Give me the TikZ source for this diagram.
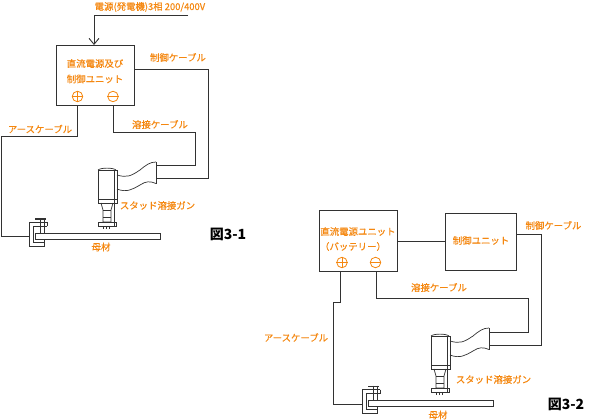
\documentclass[tikz,border=0pt]{standalone}
\usepackage{fontspec}
\setmainfont{Noto Sans CJK JP}
\newfontfamily\lblfont[FakeBold=0.35]{Noto Sans CJK JP}
\definecolor{lab}{RGB}{245,135,15}
\definecolor{wire}{RGB}{50,50,50}
\usetikzlibrary{arrows.meta}
\tikzset{
  lbl/.style={text=lab,font=\lblfont\fontsize{9.4}{11}\selectfont,inner sep=0pt},
  fig/.style={text=black,font=\fontsize{14}{16}\selectfont\bfseries,inner sep=0pt},
  boxn/.style={draw=wire,line width=0.9pt,inner sep=0pt,anchor=north west},
  wirel/.style={draw=wire,line width=0.9pt,line join=miter},
  gunl/.style={draw=wire,line width=0.7pt},
  sign/.style={circle,draw=lab,line width=0.8pt,minimum size=10.5pt,inner sep=0pt}
}
\newcommand{\weldset}[3]{%
 \begin{scope}[shift={(#1,#2)}]
  \draw[gunl] (98,170) .. controls (101,167.5) and (113,167.5) .. (116,170);
  \draw[gunl,fill=white] (98,170) rectangle (117,203);
  \draw[gunl] (98,199) -- (117,199);
  \draw[gunl,line width=1pt] (98,170) -- (98,203);
  \draw[gunl] (114.5,170) -- (114.5,226);
  \draw[gunl] (101,203) -- (103,210) -- (103,222) -- (111,222) -- (111,210) -- (113,203);
  \draw[gunl] (103,210) -- (111,210);
  \draw[gunl] (103,217) -- (111,217);
  \draw[gunl] (98.5,222) rectangle (116,226);
  \draw[gunl] (103,226) -- (103,229) (106,226) -- (106,229) (109,226) -- (109,229);
  \draw[gunl] (117,175) .. controls (127,178) and (131,176) .. (140,170) .. controls (146,165) and (150,162) .. (156,162);
  \draw[gunl] (117,189) .. controls (127,193) and (133,189) .. (140,185) .. controls (146,181) and (150,181) .. (156,183.5);
  \draw[gunl] (156,162) -- (156,183.5);
 \end{scope}
 \begin{scope}[shift={(#1,#3)}]
  \draw[gunl] (47,222) -- (29.5,222) -- (29.5,246) -- (44,246) -- (44,239);
  \draw[gunl] (47,226) -- (33,226) -- (33,242) -- (44,242);
  \draw[gunl] (47,222) -- (47,226);
  \draw[gunl] (40,218) -- (40,233) (44,218) -- (44,233);
  \draw[gunl,line width=1.1pt] (35,219) -- (46,219);
  \draw[gunl,fill=white] (35.5,233) rectangle (160,239);
 \end{scope}}
\begin{document}
\begin{tikzpicture}[x=1pt,y=-1pt]
\useasboundingbox (0,0) rectangle (589,420);
\fill[white] (0,0) rectangle (589,420);
\weldset{0}{0}{0}
\weldset{333}{166}{167.5}
\node[boxn,minimum width=78pt,minimum height=60pt] (u1) at (56,45) {};
\node[boxn,minimum width=78pt,minimum height=61pt] (u2) at (319,210) {};
\node[boxn,minimum width=71pt,minimum height=57pt] (c2) at (445,212.5) {};
\coordinate (ps) at (188,15);
\coordinate (h1a) at (156,165);
\coordinate (h1b) at (156,178);
\coordinate (cl1) at (29.5,236.7);
\coordinate (h2a) at (489,332);
\coordinate (h2b) at (489,345);
\coordinate (cl2) at (362.5,404);
\draw[wirel,-{Straight Barb[length=6pt,width=10pt]}] (ps) -- (94,15) -- (u1.north west -| 94,0);
\draw[wirel] (134,69) -- (208,69) -- (208,178) -- (h1b);
\draw[wirel] (113,105) -- (113,132.5) -- (195,132.5) -- (195,165) -- (h1a);
\draw[wirel] (77.5,105) -- (77.5,136) -- (1.5,136) -- (1.5,236.7) -- (cl1);
\draw[wirel] (u2.east) -- (c2.west |- u2.east);
\draw[wirel] (516,234.5) -- (541,234.5) -- (541,345) -- (h2b);
\draw[wirel] (376.5,271) -- (376.5,298) -- (528,298) -- (528,332) -- (h2a);
\draw[wirel] (340.5,271) -- (340.5,302) -- (333.5,302) -- (333.5,404) -- (cl2);
\node[lbl,anchor=west] (t1) at (94.5,7) {電源(発電機)3相 200/400V};
\node[lbl] (t2) at (95,63.5) {直流電源及び};
\node[lbl] (t3) at (95,79) {制御ユニット};
\node[sign] (p1) at (77.5,96.5) {};
\node[sign] (m1) at (113,96.5) {};
\draw[lab,line width=0.8pt] (p1.west) -- (p1.east) (p1.north) -- (p1.south) (m1.west) -- (m1.east);
\node[lbl] (t4) at (178,57.5) {制御ケーブル};
\node[lbl] (t5) at (160,124.5) {溶接ケーブル};
\node[lbl] (t6) at (40,129) {アースケーブル};
\node[lbl] (t7) at (157.5,205.5) {スタッド溶接ガン};
\node[lbl] (t8) at (101,247) {母材};
\node[fig] (f1) at (228,234) {図3-1};
\node[lbl] (s2) at (358,231.5) {直流電源ユニット};
\node[lbl] (s3) at (353,246.5) {（バッテリー）};
\node[sign] (p2) at (342,262.5) {};
\node[sign] (m2) at (375.5,262.5) {};
\draw[lab,line width=0.8pt] (p2.west) -- (p2.east) (p2.north) -- (p2.south) (m2.west) -- (m2.east);
\node[lbl] (s4) at (481,240.5) {制御ユニット};
\node[lbl] (s5) at (553.5,225.5) {制御ケーブル};
\node[lbl] (s6) at (439,287.5) {溶接ケーブル};
\node[lbl] (s7) at (296,337.5) {アースケーブル};
\node[lbl] (s8) at (493.5,379.5) {スタッド溶接ガン};
\node[lbl] (s9) at (438,415) {母材};
\node[fig] (f2) at (566,404) {図3-2};
\end{tikzpicture}
\end{document}
